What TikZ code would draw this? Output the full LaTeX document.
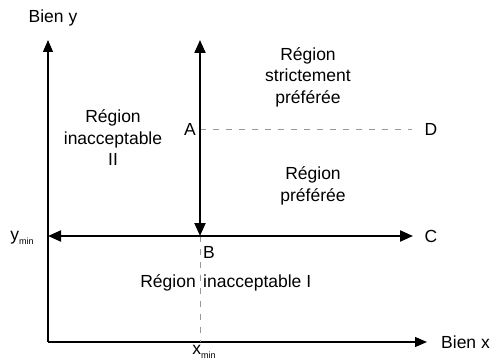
\documentclass[tikz,border=0pt]{standalone}
\usepackage{fontspec}
\setmainfont{Liberation Sans}
\usetikzlibrary{arrows.meta}
\begin{document}
\begin{tikzpicture}[x=1pt,y=-1pt,
  lbl/.style={font=\fontsize{17.5}{21.5}\selectfont, inner sep=0pt, align=center},
  axis/.style={line width=1.1pt, -{Triangle[length=12pt,width=10pt]}},
  bold/.style={line width=2pt, {Triangle[length=13pt,width=11pt]}-{Triangle[length=13pt,width=11pt]}},
  dsh/.style={gray!80, line width=0.9pt, dash pattern=on 6pt off 7pt}]
\useasboundingbox (0,0) rectangle (494,363);
\coordinate (O) at (48,342);
\coordinate (ytop) at (48,40);
\coordinate (xend) at (427,342);
\coordinate (Atop) at (200,40);
\coordinate (Bpt) at (200,236);
\coordinate (Lend) at (48,236);
\coordinate (Cend) at (413,236);
\coordinate (Apt) at (200,129);
\coordinate (Dend) at (412,129);
\coordinate (xmin) at (200,342);
\draw[axis] (O) -- (ytop);
\draw[axis] (O) -- (xend);
\draw[dsh] (Apt) -- (Dend);
\draw[dsh] (Bpt) -- (xmin);
\draw[bold] (Atop) -- (Bpt);
\draw[bold] (Lend) -- (Cend);
\node[lbl] (by) at (53,18) {Bien y};
\node[lbl, anchor=west] (bx) at (441,342) {Bien x};
\node[lbl] (A) at (190,129) {A};
\node[lbl] (D) at (431,129) {D};
\node[lbl] (C) at (431,236) {C};
\node[lbl] (B) at (209,252) {B};
\node[lbl] (ymin) at (22,238) {y\raisebox{-0.5ex}{\fontsize{9}{10}\selectfont min}};
\node[lbl] (xminl) at (204,352) {x\raisebox{-0.5ex}{\fontsize{9}{10}\selectfont min}};
\node[lbl] (r1) at (308,77) {Région\\strictement\\préférée};
\node[lbl] (r2) at (113,138) {Région\\inacceptable\\II};
\node[lbl] (r3) at (313,186) {Région\\préférée};
\node[lbl, anchor=east] (r4a) at (196,283) {Région};
\node[lbl, anchor=west] (r4b) at (203,283) {inacceptable I};
\end{tikzpicture}
\end{document}
